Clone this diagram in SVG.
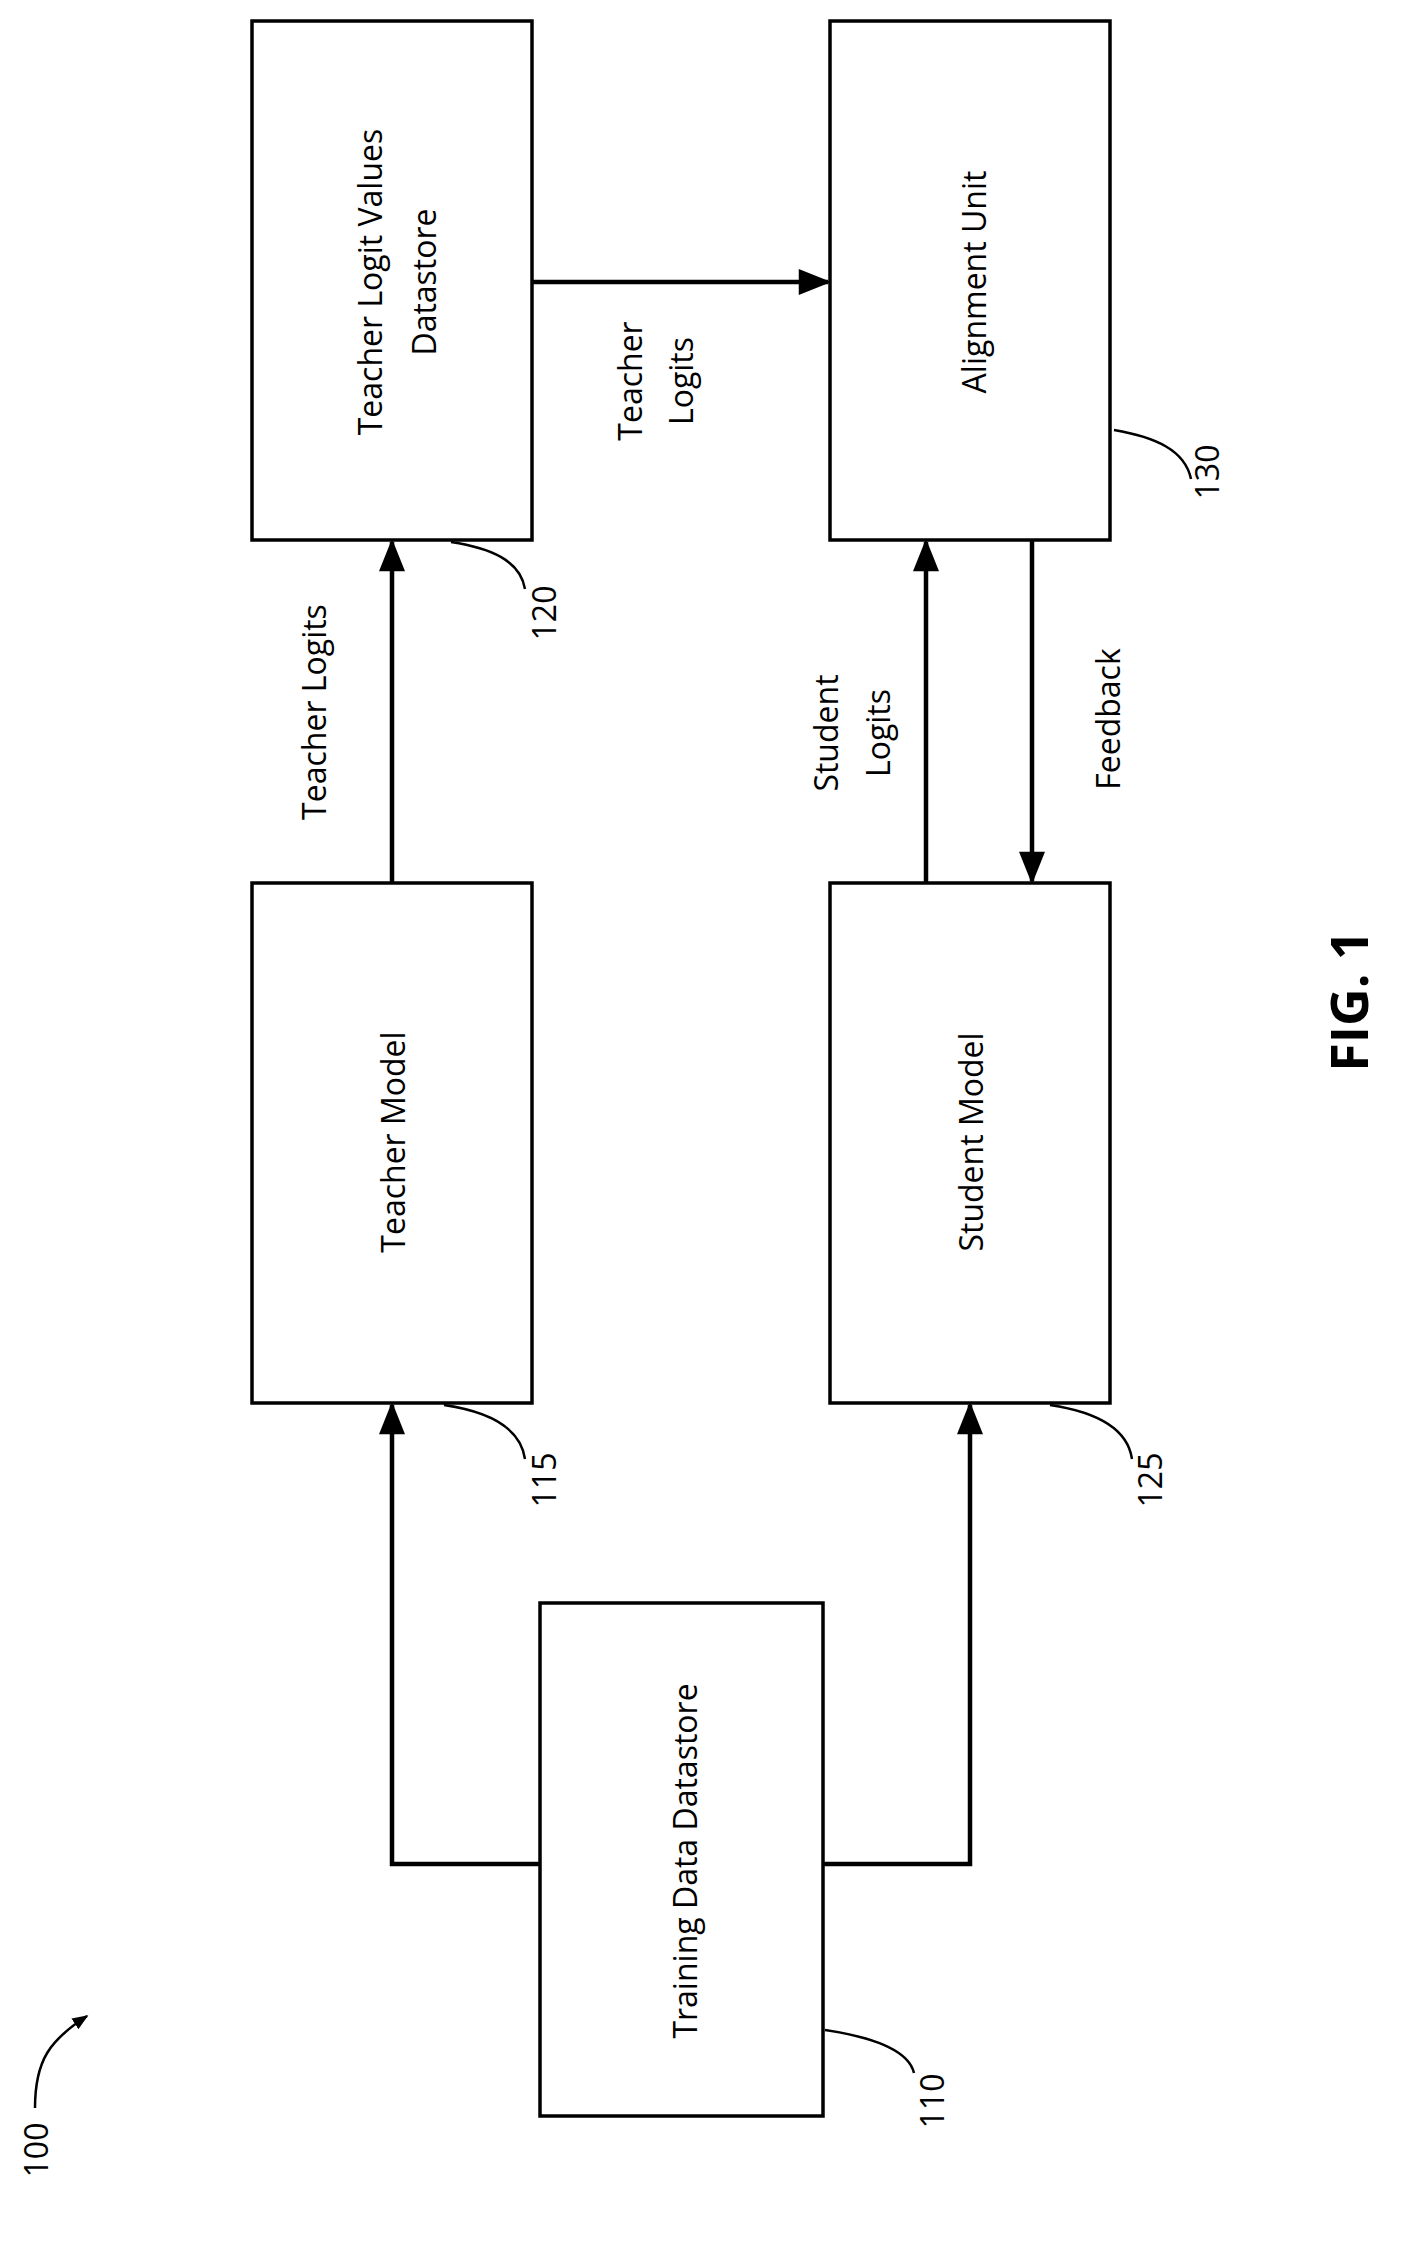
<svg xmlns="http://www.w3.org/2000/svg" width="1410" height="2254" viewBox="0 0 1410 2254">
<style>
.box{fill:#fff;stroke:#000;stroke-width:3.5}
.ln{fill:none;stroke:#000;stroke-width:4.5}
.ld{fill:none;stroke:#000;stroke-width:2.5}
text{font-family:"Open Sans","Liberation Sans",sans-serif;font-size:32px;fill:#000;text-anchor:middle;dominant-baseline:central}
</style>
<defs><marker id="a" viewBox="0 0 10 8" refX="9" refY="4" markerWidth="16" markerHeight="13" orient="auto" markerUnits="userSpaceOnUse"><path d="M0,0L10,4L0,8z"/></marker>
<marker id="ah" viewBox="0 0 10 8" refX="9" refY="4" markerWidth="34" markerHeight="26" orient="auto" markerUnits="userSpaceOnUse"><path d="M0,0L10,4L0,8z"/></marker></defs>
<g id="connectors">
<path class="ln" d="M392,883V542" marker-end="url(#ah)"/>
<path class="ln" d="M540,1864H392V1405" marker-end="url(#ah)"/>
<path class="ln" d="M823,1864H970V1405" marker-end="url(#ah)"/>
<path class="ln" d="M532,282H828" marker-end="url(#ah)"/>
<path class="ln" d="M926,883V542" marker-end="url(#ah)"/>
<path class="ln" d="M1032,540V881" marker-end="url(#ah)"/>
<g transform="translate(313,712) rotate(-90)"><text>Teacher Logits</text></g>
<g transform="translate(629,381) rotate(-90)"><text>Teacher</text></g>
<g transform="translate(680,381) rotate(-90)"><text>Logits</text></g>
<g transform="translate(825,733) rotate(-90)"><text>Student</text></g>
<g transform="translate(877,733) rotate(-90)"><text>Logits</text></g>
<g transform="translate(1107,719) rotate(-90)"><text>Feedback</text></g>
</g>
<g id="n120"><rect class="box" x="252" y="21" width="280" height="519"/>
<g transform="translate(369,282) rotate(-90)"><text>Teacher Logit Values</text></g>
<g transform="translate(423,282) rotate(-90)"><text>Datastore</text></g>
<path class="ld" d="M451,542C490,548 520,560 525,589"/>
<g transform="translate(543,613) rotate(-90)"><text>120</text></g></g>
<g id="n130"><rect class="box" x="830" y="21" width="280" height="519"/>
<g transform="translate(973,282) rotate(-90)"><text>Alignment Unit</text></g>
<path class="ld" d="M1114,430C1155,437 1185,450 1191,479"/>
<g transform="translate(1206,472) rotate(-90)"><text>130</text></g></g>
<g id="n115"><rect class="box" x="252" y="883" width="280" height="520"/>
<g transform="translate(392,1142) rotate(-90)"><text>Teacher Model</text></g>
<path class="ld" d="M444,1405C485,1411 520,1425 525,1459"/>
<g transform="translate(543,1480) rotate(-90)"><text>115</text></g></g>
<g id="n125"><rect class="box" x="830" y="883" width="280" height="520"/>
<g transform="translate(970,1142) rotate(-90)"><text>Student Model</text></g>
<path class="ld" d="M1050,1405C1090,1411 1127,1425 1132,1459"/>
<g transform="translate(1149,1480) rotate(-90)"><text>125</text></g></g>
<g id="n110"><rect class="box" x="540" y="1603" width="283" height="513"/>
<g transform="translate(684,1861) rotate(-90)"><text>Training Data Datastore</text></g>
<path class="ld" d="M825,2030C865,2036 908,2048 914,2073"/>
<g transform="translate(931,2101) rotate(-90)"><text>110</text></g></g>
<g id="n100"><g transform="translate(35,2150) rotate(-90)"><text>100</text></g>
<path class="ld" d="M35,2108C35,2060 50,2040 87,2016" marker-end="url(#a)"/></g>
<g transform="translate(1347,1001) rotate(-90)"><text style="font-size:52px;font-weight:bold">FIG. 1</text></g>
</svg>
